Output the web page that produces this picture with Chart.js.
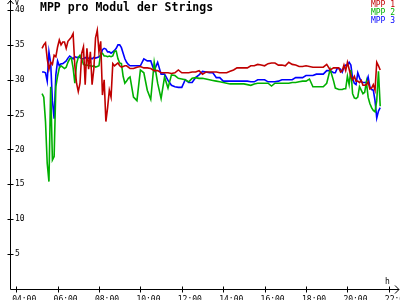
<!DOCTYPE html>
<html>
<head>
<meta charset="utf-8">
<script src="https://cdn.jsdelivr.net/npm/chart.js@4/dist/chart.umd.min.js"></script>
<style>
  html, body { margin: 0; padding: 0; background: #fff; }
  #chart { display: block; }
</style>
</head>
<body>
<canvas id="chart" width="400" height="300"></canvas>
<script>
// Chart data
const chartTitle = 'MPP pro Modul der Strings';
const seriesLabels = ['MPP 1', 'MPP 2', 'MPP 3'];
const seriesColors = ['#c00000', '#00b000', '#0000ff'];
const xTickHours = [4, 6, 8, 10, 12, 14, 16, 18, 20, 22];
const yTickValues = [5, 10, 15, 20, 25, 30, 35, 40];

const times = [
  '05:15', '05:20', '05:25', '05:30', '05:35', '05:40', '05:45', '05:50', '05:55',
  '06:00', '06:05', '06:10', '06:15', '06:20', '06:25', '06:30', '06:35', '06:40', '06:45', '06:50', '06:55',
  '07:00', '07:05', '07:10', '07:15', '07:20', '07:25', '07:30', '07:35', '07:40', '07:45', '07:50', '07:55',
  '08:00', '08:05', '08:10', '08:15', '08:20', '08:25', '08:30', '08:35', '08:40', '08:45', '08:50', '08:55',
  '09:00', '09:05', '09:10', '09:15', '09:20', '09:25', '09:30', '09:40', '09:50',
  '10:00', '10:10', '10:20', '10:30', '10:40', '10:50',
  '11:00', '11:10', '11:20', '11:30', '11:40', '11:50',
  '12:00', '12:10', '12:20', '12:30', '12:40', '12:50',
  '13:00', '13:10', '13:20', '13:30', '13:40', '13:50',
  '14:00', '14:10', '14:20', '14:30', '14:40', '14:50',
  '15:00', '15:10', '15:20', '15:30', '15:40', '15:50',
  '16:00', '16:10', '16:20', '16:30', '16:40', '16:50',
  '17:00', '17:10', '17:20', '17:30', '17:40', '17:50',
  '18:00', '18:10', '18:20', '18:30', '18:40', '18:50',
  '19:00', '19:10', '19:20', '19:25', '19:30', '19:35', '19:40', '19:45', '19:50', '19:55',
  '20:00', '20:05', '20:10', '20:15', '20:20', '20:25', '20:30', '20:35', '20:40', '20:45', '20:50', '20:55',
  '21:00', '21:05', '21:10', '21:15', '21:20', '21:25', '21:30', '21:35'
];

const mpp1 = [
  34.5, 35.0, 35.3, 33.0, 31.5, 32.5, 32.2, 33.5, 33.3,
  34.7, 35.7, 35.0, 35.4, 35.4, 34.5, 35.5, 35.8, 36.1, 36.6, 32.0, 29.5,
  28.3, 29.5, 33.8, 34.7, 29.3, 34.5, 31.5, 34.0, 29.3, 31.5, 36.0, 37.1,
  34.0, 35.5, 27.8, 30.0, 24.0, 26.0, 28.5, 27.5, 32.3, 32.0, 32.2, 32.4,
  32.0, 31.8, 31.9, 32.0, 32.0, 31.8, 31.6, 31.6, 31.8,
  31.9, 31.7, 31.7, 31.6, 31.3, 31.3,
  31.0, 31.0, 31.0, 30.9, 31.0, 31.4,
  31.0, 31.0, 31.0, 31.1, 31.1, 31.3,
  30.8, 31.1, 31.1, 31.1, 31.1, 31.0,
  31.0, 31.0, 31.2, 31.4, 31.7, 31.7,
  31.7, 31.7, 32.0, 32.0, 32.2, 32.1,
  32.0, 32.3, 32.4, 32.4, 32.1, 32.1,
  32.0, 32.5, 32.2, 32.1, 31.9, 31.9,
  32.0, 31.9, 31.8, 31.8, 31.8, 31.8,
  32.2, 31.4, 31.7, 31.7, 31.7, 31.7, 31.1, 31.3, 32.1, 31.3,
  32.5, 31.5, 30.5, 30.0, 30.5, 29.8, 29.8, 29.6, 29.9, 29.2, 29.2, 29.3,
  29.7, 28.7, 28.8, 29.3, 28.5, 32.5, 32.0, 31.4
];

const mpp2 = [
  28.0, 27.5, 24.0, 18.0, 15.4, 29.0, 18.5, 19.0, 29.0,
  30.5, 31.7, 32.0, 31.8, 31.6, 31.8, 32.5, 33.0, 33.1, 31.7, 29.5, 32.3,
  33.2, 33.5, 33.0, 32.2, 32.1, 32.1, 32.0, 32.0, 31.9, 32.0, 31.8, 31.9,
  32.0, 33.8, 33.8, 33.4, 33.4, 33.3, 33.4, 33.3, 33.4, 34.1, 34.1, 33.0,
  32.4, 32.3, 30.5, 29.5, 29.8, 30.2, 30.4, 27.5, 27.0,
  31.4, 31.0, 28.5, 27.2, 32.5, 29.5,
  27.3, 30.4, 28.8, 30.7, 30.6, 30.2,
  30.1, 30.0, 29.7, 30.2, 30.3, 30.2,
  30.2, 30.1, 30.0, 29.9, 29.8, 29.7,
  29.6, 29.5, 29.4, 29.4, 29.4, 29.4,
  29.4, 29.3, 29.2, 29.4, 29.5, 29.5,
  29.5, 29.5, 29.1, 29.5, 29.5, 29.5,
  29.5, 29.5, 29.6, 29.6, 29.7, 29.8,
  29.8, 30.1, 29.0, 29.0, 29.0, 29.0,
  29.5, 31.5, 29.8, 28.8, 28.7, 28.6, 28.6, 28.6, 28.7, 28.7,
  30.5, 29.3, 31.4, 28.0, 27.4, 27.3, 27.5, 29.0, 28.5, 28.0, 28.2, 29.7,
  27.5, 26.6, 26.0, 25.6, 25.4, 27.0, 31.2, 26.2
];

const mpp3 = [
  31.1, 31.1, 31.0, 29.8, 34.0, 32.4, 27.0, 24.4, 30.7,
  32.7, 32.0, 32.3, 32.3, 32.5, 32.7, 33.1, 33.4, 33.2, 33.0, 33.3, 33.2,
  33.2, 33.2, 33.0, 33.0, 33.2, 33.0, 33.1, 33.1, 33.0, 33.2, 33.1, 33.2,
  33.3, 33.5, 34.3, 34.5, 34.4, 34.0, 34.0, 33.8, 34.0, 34.2, 34.5, 35.0,
  35.0, 34.6, 33.8, 33.0, 32.5, 32.2, 32.0, 32.0, 32.0,
  32.0, 33.0, 32.7, 32.7, 31.3, 32.5,
  30.8, 30.8, 29.9, 29.2, 29.0, 28.9,
  28.9, 30.0, 29.6, 29.6, 30.3, 30.7,
  31.2, 31.1, 31.0, 31.0, 30.3, 30.3,
  29.8, 29.8, 29.8, 29.8, 29.8, 29.8,
  29.8, 29.8, 29.7, 29.7, 30.0, 30.0,
  30.0, 29.7, 29.7, 29.7, 29.8, 30.0,
  30.0, 30.0, 30.0, 30.3, 30.3, 30.3,
  30.6, 30.6, 30.6, 30.8, 30.8, 30.8,
  31.3, 31.3, 31.0, 31.0, 31.6, 31.6, 31.5, 31.1, 31.8, 32.1,
  32.1, 32.5, 32.1, 30.2, 29.5, 29.3, 31.0, 30.3, 29.7, 29.6, 29.6, 29.6,
  30.4, 29.0, 28.6, 28.5, 27.0, 24.5, 25.5, 26.0
];

const monoFont = '"DejaVu Sans Mono", "Liberation Mono", monospace';

// "HH:MM" -> decimal hours for the linear time axis
function toHours(t) {
  const [h, m] = t.split(':').map(Number);
  return h + m / 60;
}

function buildPoints(values) {
  return values.map((v, i) => ({ x: toHours(times[i]), y: v }));
}

function hourLabel(h) {
  return String(h).padStart(2, '0') + ':00';
}

// Axis lines with arrows, tick marks, title, unit labels and legend
const axisDecor = {
  id: 'axisDecor',
  afterDraw(chart) {
    const ctx = chart.ctx;
    const area = chart.chartArea;
    const xScale = chart.scales.x;
    const yScale = chart.scales.y;
    const ax = Math.round(area.left) - 0.5;
    const ay = Math.round(area.bottom) + 0.5;

    ctx.save();
    ctx.strokeStyle = '#000';
    ctx.lineWidth = 1;
    ctx.beginPath();
    ctx.moveTo(ax, ay);
    ctx.lineTo(ax, 0);
    ctx.moveTo(ax - 3, 4);
    ctx.lineTo(ax, 0.5);
    ctx.lineTo(ax + 3, 4);
    ctx.moveTo(ax, ay);
    ctx.lineTo(399, ay);
    ctx.moveTo(395, ay - 4);
    ctx.lineTo(399, ay);
    ctx.lineTo(395, ay + 4);
    yTickValues.forEach(v => {
      const py = Math.round(yScale.getPixelForValue(v)) + 0.5;
      ctx.moveTo(ax - 3, py);
      ctx.lineTo(ax + 3, py);
    });
    xTickHours.forEach(h => {
      const px = Math.round(xScale.getPixelForValue(h)) + 0.5;
      ctx.moveTo(px, ay - 3);
      ctx.lineTo(px, ay + 3);
    });
    ctx.stroke();

    ctx.fillStyle = '#000';
    ctx.textBaseline = 'alphabetic';
    ctx.textAlign = 'left';
    ctx.font = '8px ' + monoFont;
    ctx.fillText('V', ax + 4, 5);
    ctx.fillText('h', 385, 284);

    ctx.font = 'bold 11.5px ' + monoFont;
    ctx.fillText(chartTitle, 40, 11);

    ctx.font = '8px ' + monoFont;
    ctx.textAlign = 'right';
    chart.data.datasets.forEach((ds, i) => {
      ctx.fillStyle = ds.borderColor;
      ctx.fillText(ds.label, 395, 7 + i * 8);
    });
    ctx.restore();
  }
};

const datasets = [mpp1, mpp2, mpp3].map((values, i) => ({
  label: seriesLabels[i],
  data: buildPoints(values),
  borderColor: seriesColors[i],
  backgroundColor: seriesColors[i],
  borderWidth: 1.6,
  pointRadius: 0,
  tension: 0,
  fill: false
}));

new Chart(document.getElementById('chart'), {
  type: 'line',
  data: { datasets: datasets },
  options: {
    responsive: false,
    animation: false,
    devicePixelRatio: 1,
    layout: { padding: { left: 11, top: 3, right: 6, bottom: 0 } },
    scales: {
      x: {
        type: 'linear',
        min: 3.75,
        max: 22.25,
        grid: { display: false },
        border: { display: false },
        afterBuildTicks: s => { s.ticks = xTickHours.map(v => ({ value: v })); },
        afterFit: s => {
          s.height = 11;
          s.paddingLeft = 0;
          s.paddingRight = 0;
        },
        ticks: {
          autoSkip: false,
          maxRotation: 0,
          align: 'start',
          labelOffset: -4,
          padding: -2,
          color: '#000',
          font: { family: monoFont, size: 8 },
          callback: v => hourLabel(v)
        }
      },
      y: {
        min: 0,
        max: 41,
        grid: { display: false },
        border: { display: false },
        afterBuildTicks: s => { s.ticks = yTickValues.map(v => ({ value: v })); },
        afterFit: s => {
          s.width = 0;
          s.paddingTop = 0;
          s.paddingBottom = 0;
        },
        ticks: {
          mirror: true,
          padding: 4,
          color: '#000',
          font: { family: monoFont, size: 8 }
        }
      }
    },
    plugins: {
      legend: { display: false },
      tooltip: { enabled: false },
      title: { display: false }
    }
  },
  plugins: [axisDecor]
});
</script>
</body>
</html>
